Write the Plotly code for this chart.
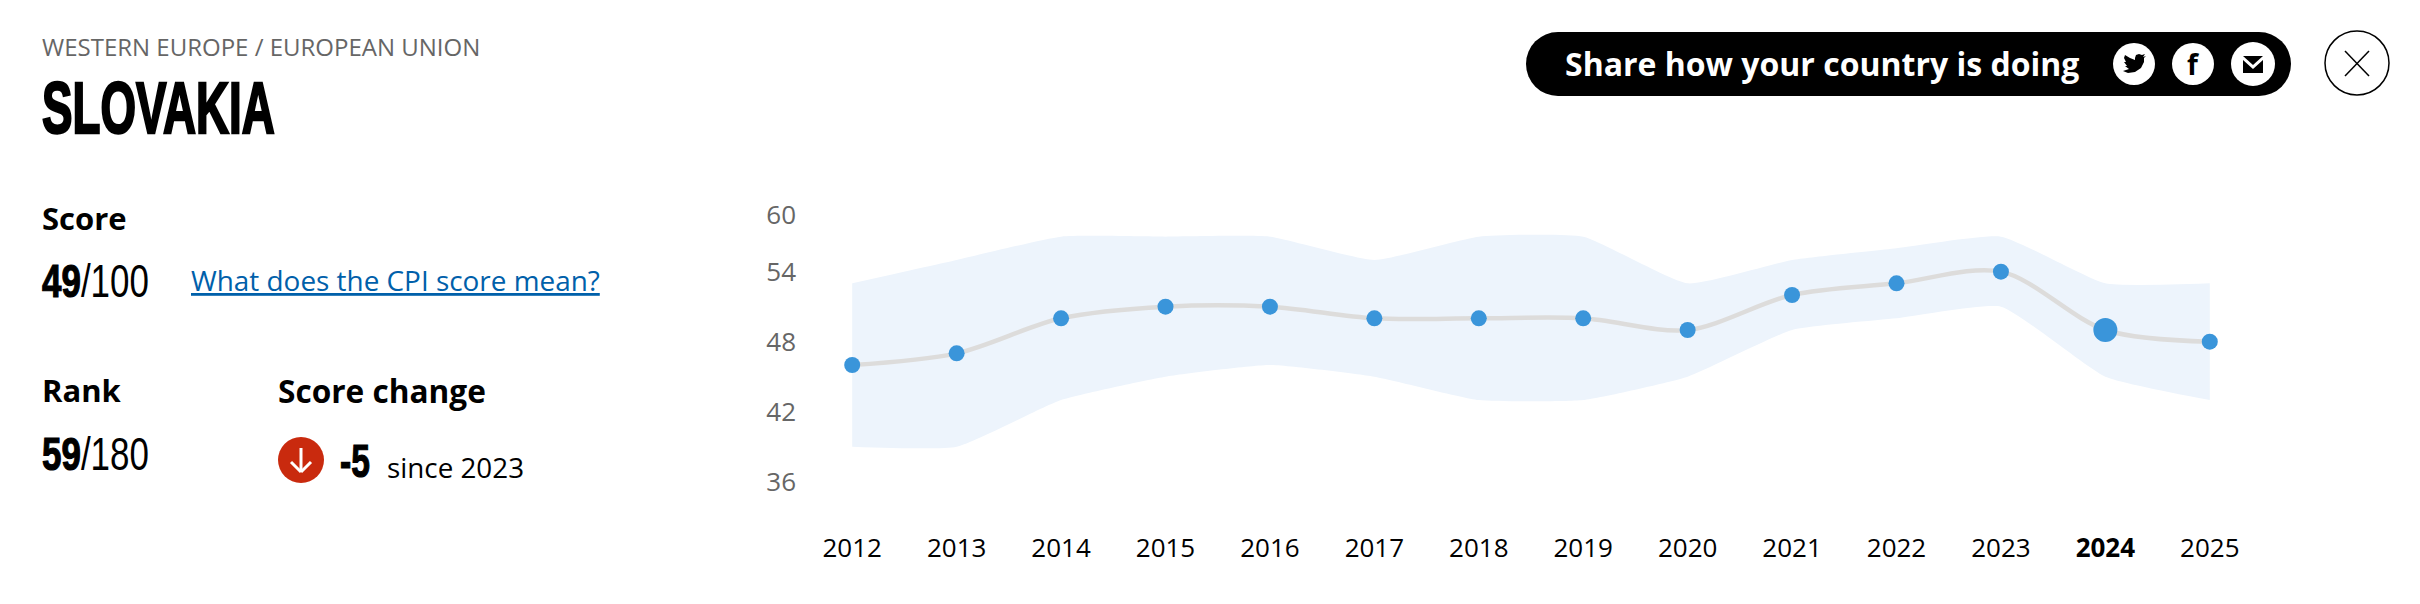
import plotly.graph_objects as go

years = [2012, 2013, 2014, 2015, 2016, 2017, 2018, 2019, 2020, 2021, 2022, 2023, 2024, 2025]
scores = [46, 47, 50, 51, 51, 50, 50, 50, 49, 52, 53, 54, 49, 48]
band_upper = [53, 55, 57, 57, 57, 55, 57, 57, 53, 55, 56, 57, 53, 53]
band_lower = [39, 39, 43, 45, 46, 45, 43, 43, 45, 49, 50, 51, 45, 43]
y_tick_values = [36, 42, 48, 54, 58.9]
y_tick_labels = ["36", "42", "48", "54", "60"]
highlight_year = 2024

W, H = 2420, 604
BODY = "Open Sans"
HEAD = "Liberation Sans"


def px(x):
    return x / W


def py(y):
    return 1 - y / H


def label(x, y, text, size, color="#000000", family=BODY, anchor="left"):
    return dict(x=px(x), y=py(y), xref="paper", yref="paper", text=text, showarrow=False,
                xanchor=anchor, yanchor="middle", borderpad=0, borderwidth=0,
                font=dict(family=family, size=size, color=color))


def circle(cx, cy, r, fill, line_color=None, line_width=0):
    return dict(type="circle", xref="paper", yref="paper", layer="above",
                x0=px(cx - r), x1=px(cx + r), y0=py(cy + r), y1=py(cy - r),
                fillcolor=fill, line=dict(color=line_color or fill, width=line_width))


def segment(x0, y0, x1, y1, color, width):
    return dict(type="line", xref="paper", yref="paper", layer="above",
                x0=px(x0), x1=px(x1), y0=py(y0), y1=py(y1),
                line=dict(color=color, width=width))


def polygon(points, fill):
    d = "M " + " L ".join("%.5f,%.5f" % (px(a), py(b)) for a, b in points) + " Z"
    return dict(type="path", path=d, xref="paper", yref="paper", layer="above",
                fillcolor=fill, line=dict(width=0))


fig = go.Figure()

# band first, fill goes between the two smoothed edges
fig.add_trace(go.Scatter(x=years, y=band_upper, mode="lines", hoverinfo="skip",
                         line=dict(color="rgba(0,0,0,0)", width=0, shape="spline", smoothing=0.45)))
fig.add_trace(go.Scatter(x=years, y=band_lower, mode="lines", hoverinfo="skip", fill="tonexty",
                         fillcolor="#EDF4FC",
                         line=dict(color="rgba(0,0,0,0)", width=0, shape="spline", smoothing=0.45)))
fig.add_trace(go.Scatter(x=years, y=scores, mode="lines", hoverinfo="skip",
                         line=dict(color="#DDDCDB", width=4.5, shape="spline", smoothing=0.9)))
fig.add_trace(go.Scatter(x=years, y=scores, mode="markers", hoverinfo="skip",
                         marker=dict(color="#3A95DA", opacity=1, line=dict(width=0),
                                     size=[24 if yr == highlight_year else 16 for yr in years])))

x_labels = ["<b>%d</b>" % yr if yr == highlight_year else str(yr) for yr in years]

shapes = [
    # share pill
    circle(1558, 64, 32, "#000000"),
    circle(2259, 64, 32, "#000000"),
    dict(type="rect", xref="paper", yref="paper", layer="above", x0=px(1558), x1=px(2259),
         y0=py(96), y1=py(32), fillcolor="#000000", line=dict(width=0)),
    circle(2134, 64, 21, "#FFFFFF"),
    circle(2193, 64, 21, "#FFFFFF"),
    circle(2253, 64, 22, "#FFFFFF"),
    # twitter bird
    polygon([(2146, 56), (2143, 57), (2145, 54), (2142, 55), (2139, 54), (2136, 55), (2135, 58),
             (2135, 60), (2130, 58), (2125, 55), (2124, 58), (2126, 62), (2124, 62), (2127, 66),
             (2125, 66), (2129, 69), (2123, 71), (2128, 73), (2135, 72), (2141, 68), (2144, 62),
             (2144, 58)], "#000000"),
    # mail icon
    polygon([(2243, 56), (2263, 56), (2253, 65)], "#000000"),
    polygon([(2243, 60), (2253, 69), (2263, 60), (2263, 73), (2243, 73)], "#000000"),
    # close button
    circle(2357, 63, 32, "#FFFFFF", "#000000", 1.5),
    segment(2345, 51, 2369, 76, "#000000", 1.5),
    segment(2369, 51, 2345, 76, "#000000", 1.5),
    # score change arrow
    circle(301, 460, 23, "#C92A0E"),
    segment(301, 448, 301, 471, "#FFFFFF", 3),
    segment(291, 462, 301, 472, "#FFFFFF", 3),
    segment(311, 462, 301, 472, "#FFFFFF", 3),
]

annotations = [
    label(42, 46, "WESTERN EUROPE / EUROPEAN UNION", 24, "#666666"),
    label(42, 108, "<b>SLOVAKIA</b>", 72, family=HEAD),
    label(42, 218, "<b>Score</b>", 31),
    label(42, 281, "<b>49</b>/100", 46, family=HEAD),
    label(191, 280, "<u>What does the CPI score mean?</u>", 27.9, "#0060AA"),
    label(42, 390, "<b>Rank</b>", 31),
    label(278, 390, "<b>Score change</b>", 31.6),
    label(42, 454, "<b>59</b>/180", 46, family=HEAD),
    label(340, 461, "<b>-5</b>", 46, family=HEAD),
    label(387, 467, "since 2023", 27.8),
    label(1565, 63, "<b>Share how your country is doing</b>", 32, "#FFFFFF"),
    label(2193, 64, "<b>f</b>", 28, anchor="center"),
]

fig.update_layout(
    width=W, height=H, margin=dict(l=0, r=0, t=0, b=0, pad=0),
    paper_bgcolor="#FFFFFF", plot_bgcolor="#FFFFFF", showlegend=False,
    font=dict(family=BODY),
    xaxis=dict(domain=[px(800), px(2262)], range=[2011.5, 2025.5], tickmode="array", tickvals=years,
               ticktext=x_labels, showgrid=False, zeroline=False, showline=False, ticks="",
               tickfont=dict(size=26, color="#000000", family=BODY), anchor="y"),
    yaxis=dict(domain=[py(530), py(180)], range=[46 - (530 - 365) / 11.67, 46 + (365 - 180) / 11.67],
               tickmode="array", tickvals=y_tick_values, ticktext=y_tick_labels, showgrid=False,
               zeroline=False, showline=False, ticks="", anchor="x", ticklabelstandoff=3,
               tickfont=dict(size=26, color="#666666", family=BODY)),
    shapes=shapes, annotations=annotations,
)

# no condensed font installed, so squeeze the headline numbers sideways and thicken the bold part
squeeze = """
document.body.style.margin = '0';
setTimeout(function () {
    var widths = {1: 0.635, 3: 0.76, 7: 0.76, 8: 0.73};
    var heavy = {1: 2.5, 3: 1.2, 7: 1.2, 8: 1.2};
    Object.keys(widths).forEach(function (i) {
        var t = document.querySelector('g.annotation[data-index="' + i + '"] text');
        var left = t.getBBox().x;
        t.setAttribute('transform', 'translate(' + left + ' 0) scale(' + widths[i] + ' 1) translate(' + (-left) + ' 0)');
        var bold = t.querySelector('tspan');
        if (bold) {
            bold.style.stroke = '#000000';
            bold.style.strokeWidth = heavy[i] + 'px';
        }
    });
}, 100);
"""
fig.write_html("out.html", post_script=squeeze, config=dict(displayModeBar=False))
